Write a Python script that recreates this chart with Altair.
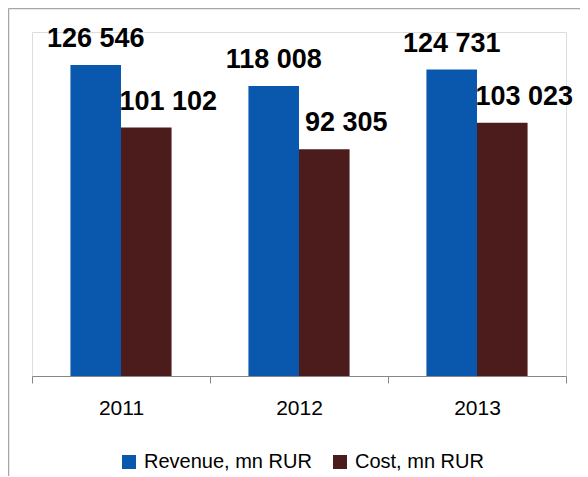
import altair as alt
import pandas as pd

years = ["2011", "2012", "2013"]
series = ["Revenue, mn RUR", "Cost, mn RUR"]
revenue = [126546, 118008, 124731]
cost = [101102, 92305, 103023]
labels_rev = ["126 546", "118 008", "124 731"]
labels_cost = ["101 102", "92 305", "103 023"]
colors = ["#0A57AE", "#4C1C1C"]

rows = []
for i, yr in enumerate(years):
    rows.append({"year": yr, "series": series[0], "value": revenue[i], "label": labels_rev[i]})
    rows.append({"year": yr, "series": series[1], "value": cost[i], "label": labels_cost[i]})
df = pd.DataFrame(rows)

FONT = "Liberation Sans Narrow, Arial Narrow, Liberation Sans, Arial, sans-serif"

x = alt.X("year:N", sort=years, scale=alt.Scale(paddingInner=0, paddingOuter=0),
          axis=alt.Axis(title=None, labelAngle=0, tickBand="extent", tickExtra=True,
                        domainColor="#878787", tickColor="#878787", tickSize=7,
                        labelFontSize=21, labelFont=FONT, labelColor="#000000",
                        labelPadding=14))
xo = alt.XOffset("series:N", sort=series, scale=alt.Scale(paddingInner=0, paddingOuter=0.76))
y = alt.Y("value:Q", scale=alt.Scale(domain=[0, 140000]), axis=None)
color = alt.Color("series:N", sort=series,
                  scale=alt.Scale(domain=series, range=colors),
                  legend=alt.Legend(title=None, orient="none", legendX=87, legendY=420,
                                    direction="horizontal", symbolType="square",
                                    symbolSize=196, symbolStrokeWidth=0,
                                    labelFontSize=20, labelFont=FONT, labelColor="#000000",
                                    labelLimit=400, columnPadding=18, labelOffset=5))

base = alt.Chart(df)
bars = base.mark_bar().encode(x=x, xOffset=xo, y=y, color=color)

rev_text = base.transform_filter(alt.datum.series == series[0]).mark_text(
    baseline="alphabetic", dy=-18, fontSize=27, fontWeight="bold", font=FONT, color="#000000"
).encode(x=x, xOffset=xo, y=y, text="label:N")

cost_text = base.transform_filter(alt.datum.series == series[1]).mark_text(
    baseline="alphabetic", dy=-18, dx=22, fontSize=27, fontWeight="bold", font=FONT, color="#000000"
).encode(x=x, xOffset=xo, y=y, text="label:N")

frame_df = pd.DataFrame({"k": [0]})
left_line = alt.Chart(frame_df).mark_rule(color="#A6A6A6", strokeWidth=1.5).encode(
    x=alt.value(-23.5), y=alt.value(-23.5), y2=alt.value(450))
top_line = alt.Chart(frame_df).mark_rule(color="#A6A6A6", strokeWidth=1.5).encode(
    x=alt.value(-23.5), x2=alt.value(560), y=alt.value(-23.5))

chart = alt.layer(left_line, top_line, bars, rev_text, cost_text).properties(
    width=534, height=344,
    padding={"left": 24, "top": 24, "right": 14, "bottom": 100},
    autosize=alt.AutoSizeParams(type="none"),
).configure_view(stroke=None).configure(background="#FFFFFF")

chart.save("out.html", embed_options={"renderer": "svg", "actions": False})
